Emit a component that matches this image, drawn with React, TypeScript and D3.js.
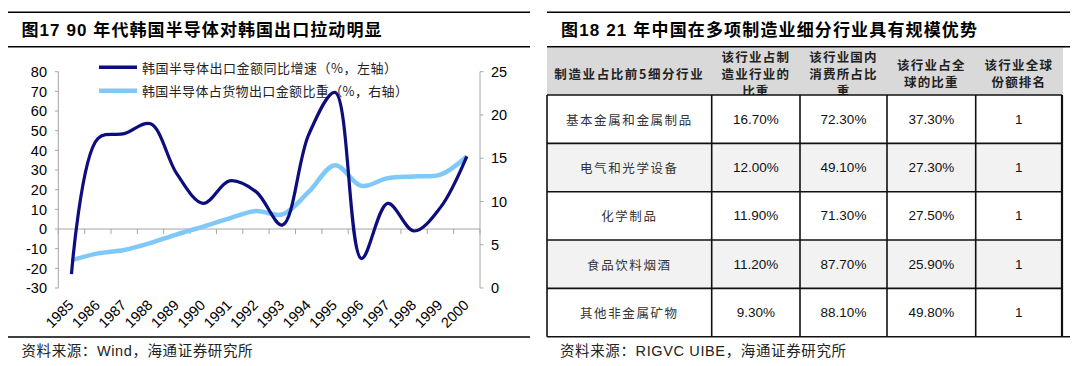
import React from 'react';
import * as d3 from 'd3';

// left chart data
const years = ['1985','1986','1987','1988','1989','1990','1991','1992','1993','1994','1995','1996','1997','1998','1999','2000'];
const exportGrowth = [-23, 46, 48.5, 53.5, 28, 13, 24.5, 19, 2, 48, 69.5, -15, 13, -1, 11, 37];
const semiShare = [3.2, 4, 4.4, 5.2, 6.2, 7.1, 8.05, 8.9, 8.5, 11.1, 14.2, 11.8, 12.7, 12.9, 13.1, 15.2];
const leftTicks = [-30, -20, -10, 0, 10, 20, 30, 40, 50, 60, 70, 80];
const rightTicks = [0, 5, 10, 15, 20, 25];
const legendNames = ['韩国半导体出口金额同比增速（%，左轴）', '韩国半导体占货物出口金额比重（%，右轴）'];

// right table data
const headerLines = [
  ['制造业占比前5细分行业'],
  ['该行业占制', '造业行业的', '比重'],
  ['该行业国内', '消费所占比', '重'],
  ['该行业占全', '球的比重'],
  ['该行业全球', '份额排名'],
];
const industries = ['基本金属和金属制品', '电气和光学设备', '化学制品', '食品饮料烟酒', '其他非金属矿物'];
const shareOfManufacturing = ['16.70%', '12.00%', '11.90%', '11.20%', '9.30%'];
const domesticConsumption = ['72.30%', '49.10%', '71.30%', '87.70%', '88.10%'];
const globalShare = ['37.30%', '27.30%', '27.50%', '25.90%', '49.80%'];
const globalRank = ['1', '1', '1', '1', '1'];

const NAVY = '#0d0d7f';
const LIGHT = '#7fc8f7';
const cjk = '"Noto Sans CJK SC", sans-serif';
const latin = '"Liberation Sans", Arial, "Noto Sans CJK SC", sans-serif';

function LeftChart() {
  const x = d3.scaleBand<string>().domain(years).range([58.3, 480]);
  const yL = d3.scaleLinear().domain([-30, 80]).range([288, 71.7]);
  const yR = d3.scaleLinear().domain([0, 25]).range([288, 71.7]);
  const cx = (i: number) => (x(years[i]) as number) + x.bandwidth() / 2;

  const lineL = d3.line<number>().x((d, i) => cx(i)).y(d => yL(d)).curve(d3.curveCatmullRom.alpha(0.5));
  const lineR = d3.line<number>().x((d, i) => cx(i)).y(d => yR(d)).curve(d3.curveCatmullRom.alpha(0.5));
  const zeroY = yL(0);
  const tickXs = years.map(y => x(y) as number).concat([480]);

  return (
    <g>
      {/* title */}
      <line x1={8} x2={530} y1={12.3} y2={12.3} stroke="#000" strokeWidth={1.5} />
      <text x={21.5} y={36} fontFamily={latin} fontWeight="bold" fontSize={17} fill="#000"
        textLength={360} lengthAdjust="spacing">图17 90 年代韩国半导体对韩国出口拉动明显</text>
      <line x1={8} x2={530} y1={46.7} y2={46.7} stroke="#000" strokeWidth={1.5} />

      {/* left axis */}
      <line x1={58.3} x2={58.3} y1={71.7} y2={288} stroke="#a6a6a6" />
      {leftTicks.map(t => (
        <g key={t}>
          <line x1={55} x2={58.3} y1={yL(t)} y2={yL(t)} stroke="#a6a6a6" />
          <text x={47} y={yL(t)} dy="0.36em" textAnchor="end" fontFamily={latin} fontSize={14.5} fill="#000">{t}</text>
        </g>
      ))}
      {/* right axis */}
      <line x1={480} x2={480} y1={71.7} y2={288} stroke="#a6a6a6" />
      {rightTicks.map(t => (
        <g key={t}>
          <line x1={480} x2={483.5} y1={yR(t)} y2={yR(t)} stroke="#a6a6a6" />
          <text x={491} y={yR(t)} dy="0.36em" textAnchor="start" fontFamily={latin} fontSize={14.5} fill="#000">{t}</text>
        </g>
      ))}
      {/* x axis on zero */}
      <line x1={58.3} x2={480} y1={zeroY} y2={zeroY} stroke="#a6a6a6" />
      {tickXs.map((t, i) => (
        <line key={i} x1={t} x2={t} y1={zeroY} y2={zeroY + 5} stroke="#a6a6a6" />
      ))}
      {years.map((yr, i) => (
        <text key={yr} transform={`translate(${cx(i) + 3},306) rotate(-45)`} textAnchor="end"
          fontFamily={latin} fontSize={14.5} fill="#000">{yr}</text>
      ))}

      {/* legend */}
      <line x1={99} x2={137} y1={67.3} y2={67.3} stroke={NAVY} strokeWidth={3.5} />
      <text x={142} y={67.3} dominantBaseline="central" fontFamily={cjk} fontSize={13} fill="#222"
        textLength={255} lengthAdjust="spacing">{legendNames[0]}</text>
      <line x1={99} x2={137} y1={90.7} y2={90.7} stroke={LIGHT} strokeWidth={4.5} />
      <text x={142} y={90.7} dominantBaseline="central" fontFamily={cjk} fontSize={13} fill="#222"
        textLength={266} lengthAdjust="spacing">{legendNames[1]}</text>

      {/* series */}
      <path d={lineR(semiShare) as string} fill="none" stroke={LIGHT} strokeWidth={4.5} strokeLinejoin="round" />
      <path d={lineL(exportGrowth) as string} fill="none" stroke={NAVY} strokeWidth={3.2} strokeLinejoin="round" />

      {/* footer */}
      <line x1={8} x2={530} y1={337} y2={337} stroke="#000" strokeWidth={1.5} />
      <text x={21.5} y={351} dominantBaseline="central" fontFamily={latin} fontSize={14.5} fill="#222"
        textLength={231} lengthAdjust="spacing">资料来源：Wind，海通证券研究所</text>
    </g>
  );
}

function RightTable() {
  const colEdges = [547, 711.7, 800, 887, 975.7, 1062];
  const headTop = 47.5;
  const headBottom = 95;
  const rowIdx = d3.range(industries.length);
  const y = d3.scaleBand<number>().domain(rowIdx).range([headBottom, 336.7]);
  const columns = [industries, shareOfManufacturing, domesticConsumption, globalShare, globalRank];
  const colMid = (c: number) => (colEdges[c] + colEdges[c + 1]) / 2;

  return (
    <g>
      <line x1={547} x2={1070} y1={12.3} y2={12.3} stroke="#000" strokeWidth={1.5} />
      <text x={561} y={36} fontFamily={latin} fontWeight="bold" fontSize={17} fill="#000"
        textLength={416} lengthAdjust="spacing">图18 21 年中国在多项制造业细分行业具有规模优势</text>

      {/* header */}
      <rect x={547} y={headTop} width={1063 - 547} height={headBottom - headTop} fill="#d9d9d9" />
      {headerLines.map((lines, c) => {
        const lh = 17;
        const start = 73.4 - ((lines.length - 1) * lh) / 2;
        return lines.map((s, k) => (
          <text key={`${c}-${k}`} x={colMid(c)} y={start + k * lh} dominantBaseline="central" textAnchor="middle"
            fontFamily={cjk} fontWeight="bold" fontSize={12.5} letterSpacing={c === 0 ? 1.6 : 1.2}
            fill="#222">{s}</text>
        ));
      })}
      <line x1={547} x2={1070} y1={46.7} y2={46.7} stroke="#000" strokeWidth={1.5} />

      {/* body */}
      {rowIdx.map(r => (
        <rect key={r} x={547} y={y(r) as number} width={1062 - 547} height={y.bandwidth()}
          fill={r % 2 === 1 ? '#f2f2f2' : '#ffffff'} />
      ))}
      {rowIdx.map(r => columns.map((col, c) => (
        <text key={`${r}-${c}`} x={colMid(c)} y={(y(r) as number) + y.bandwidth() / 2} dominantBaseline="central"
          textAnchor="middle" fontFamily={c === 0 ? cjk : latin} fontSize={c === 0 ? 12.5 : 13.5}
          letterSpacing={c === 0 ? 1.6 : 0} fill={c === 0 ? '#333' : '#111'}>{col[r]}</text>
      )))}
      {/* grid */}
      {rowIdx.map(r => (
        <line key={r} x1={547} x2={1062} y1={y(r) as number} y2={y(r) as number} stroke="#111" strokeWidth={1.6} />
      ))}
      <line x1={547} x2={1070} y1={336.7} y2={336.7} stroke="#111" strokeWidth={1.6} />
      {colEdges.map((e, i) => (
        <line key={i} x1={e} x2={e} y1={headBottom} y2={336.7} stroke="#111" strokeWidth={i === colEdges.length - 1 ? 2.2 : 1.6} />
      ))}

      <text x={560} y={351} dominantBaseline="central" fontFamily={latin} fontSize={14.5} fill="#222"
        textLength={286} lengthAdjust="spacing">资料来源：RIGVC UIBE，海通证券研究所</text>
    </g>
  );
}

export default function App() {
  return (
    <svg width={1080} height={366} style={{ position: 'absolute', left: 0, top: 0, background: '#fff' }}>
      <rect width={1080} height={366} fill="#fff" />
      <LeftChart />
      <RightTable />
    </svg>
  );
}
